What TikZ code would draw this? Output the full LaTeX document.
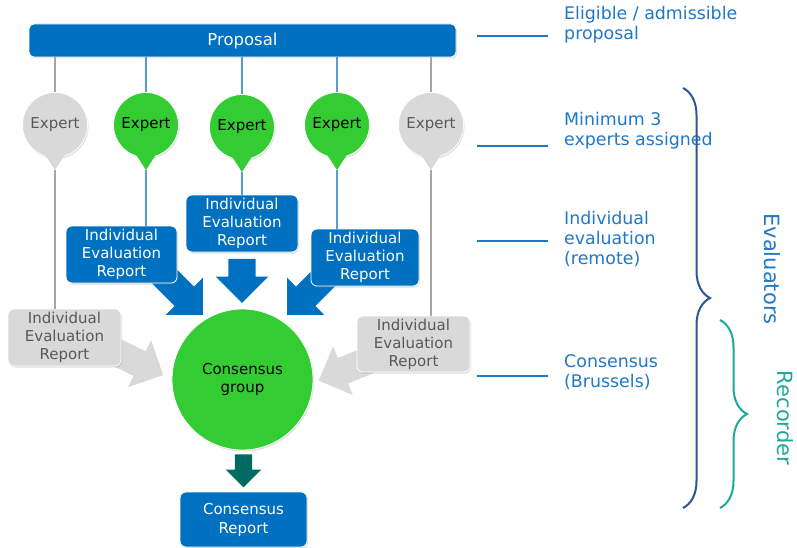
\documentclass[tikz,border=0pt]{standalone}
\usepackage{fontspec}
\setmainfont{DejaVu Sans}
\usetikzlibrary{
    calc,
    decorations.pathreplacing,
    shadows,
    shapes.arrows
}
\definecolor{boxblue}{HTML}{0070C0}
\definecolor{expgreen}{HTML}{33CC33}
\definecolor{expgray}{HTML}{D9D9D9}
\definecolor{graytext}{HTML}{595959}
\definecolor{linkblue}{HTML}{5B9BD5}
\definecolor{linkgray}{HTML}{A6A6A6}
\definecolor{labelblue}{HTML}{1F78C8}
\definecolor{bracenavy}{HTML}{2A5699}
\definecolor{braceteal}{HTML}{1CA89C}
\definecolor{arrowteal}{HTML}{006B63}
\tikzset{
    every picture/.style = {
        x = 1pt,
        y = 1pt
    },
    soft shadow/.style = {
        drop shadow = {opacity = 0.25, shadow xshift = 1pt, shadow yshift = -1.5pt}
    },
    bluebox/.style = {
        rectangle,
        rounded corners = 6pt,
        fill = boxblue,
        draw = white,
        line width = 0.8pt,
        text = white,
        align = center,
        inner sep = 0pt,
        soft shadow,
        font = \fontsize{15}{18}\selectfont
    },
    graybox/.style = {bluebox, fill = expgray, text = graytext},
    expert/.style = {
        circle,
        minimum size = 65pt,
        inner sep = 0pt,
        outer sep = 0pt,
        draw = white,
        line width = 0.8pt,
        soft shadow,
        font = \fontsize{15}{18}\selectfont
    },
    green expert/.style = {expert, fill = expgreen, text = black},
    gray expert/.style = {expert, fill = expgray, text = graytext},
    blocky/.style = {
        single arrow,
        single arrow tip angle = 90,
        inner xsep = 0pt,
        inner ysep = 13.5pt,
        single arrow head extend = 12.5pt,
        outer sep = 0pt
    },
    bluelink/.style = {draw = linkblue, line width = 1.2pt},
    graylink/.style = {draw = linkgray, line width = 1.2pt},
    stage/.style = {
        text = labelblue,
        align = left,
        anchor = west,
        inner sep = 0pt,
        font = \fontsize{17.4}{20}\selectfont
    },
    stagetick/.style = {draw = labelblue, line width = 1.5pt},
    role/.style = {rotate = -90, inner sep = 0pt, font = \fontsize{21}{24}\selectfont},
    rolebrace/.style = {decorate, decoration = {brace, amplitude = 27pt}, line width = 2pt}
}

\begin{document}
\begin{tikzpicture}
    \path[use as bounding box] (0,0) rectangle (797,-548);

    \node[bluebox, minimum width = 427pt, minimum height = 33pt, rounded corners = 5pt,
        font = \fontsize{16.5}{20}\selectfont] (prop) at (242.5,-40.5) {Proposal};

    \node[gray expert] (e1) at (55,-125) {Expert};
    \node[green expert] (e2) at (146,-125) {Expert};
    \node[green expert] (e3) at (242,-127) {Expert};
    \node[green expert] (e4) at (337,-125) {Expert};
    \node[gray expert] (e5) at (431,-125) {Expert};
    \foreach \e/\c in {e1/expgray, e2/expgreen, e3/expgreen, e4/expgreen, e5/expgray}
        \fill[\c] ($(\e)+(-11,-28)$) -- ($(\e)+(11,-28)$) -- ($(\e)+(0,-45)$) coordinate (\e-tip) -- cycle;
    \foreach \e/\l in {e1/graylink, e2/bluelink, e3/bluelink, e4/bluelink, e5/graylink}
        \path[\l] (prop.south -| \e) -- (\e.north);

    \node[blocky, fill = boxblue, minimum height = 60pt, rotate = -45] (a1) at (176.8,-288.8) {};
    \node[blocky, fill = boxblue, minimum height = 44pt, rotate = -90] (a2) at (242,-274) {};
    \node[blocky, fill = boxblue, minimum height = 60pt, rotate = -135] (a3) at (313.2,-288.8) {};
    \node[blocky, fill = expgray, minimum height = 55pt, rotate = -26] (a4) at (132.3,-360) {};
    \node[blocky, fill = expgray, minimum height = 55pt, rotate = -158] (a5) at (350.5,-367.7) {};
    \node[blocky, fill = arrowteal, minimum height = 33pt, inner ysep = 8.5pt,
        single arrow head extend = 9pt, rotate = -90] (a6) at (243.5,-466.5) {};

    \node[bluebox, minimum width = 111pt, minimum height = 57pt] (b1) at (121.5,-254.5) {Individual\\Evaluation\\Report};
    \node[bluebox, minimum width = 112pt, minimum height = 57pt] (b2) at (242,-223.5) {Individual\\Evaluation\\Report};
    \node[bluebox, minimum width = 108pt, minimum height = 57pt] (b3) at (365,-257.5) {Individual\\Evaluation\\Report};
    \node[graybox, minimum width = 113pt, minimum height = 57pt] (g1) at (64.5,-337.5) {Individual\\Evaluation\\Report};
    \node[graybox, minimum width = 113pt, minimum height = 56pt] (g2) at (413.5,-344) {Individual\\Evaluation\\Report};

    \path[graylink] (e1-tip) -- (e1-tip |- g1.north);
    \path[bluelink] (e2-tip) -- (e2-tip |- b1.north);
    \path[bluelink] (e3-tip) -- (e3-tip |- b2.north);
    \path[bluelink] (e4-tip) -- (e4-tip |- b3.north);
    \path[graylink] (e5-tip) -- (e5-tip |- g2.north);

    \node[circle, minimum size = 141pt, fill = expgreen, draw = white, line width = 0.8pt, soft shadow,
        align = center, font = \fontsize{15}{18}\selectfont] (cg) at (242.5,-379.5) {Consensus\\group};
    \node[bluebox, minimum width = 127pt, minimum height = 55pt,
        font = \fontsize{15}{19}\selectfont] (cr) at (243.5,-519.5) {Consensus\\Report};

    \node[stage] (s1) at (564,-25) {Eligible / admissible\\proposal};
    \node[stage] (s2) at (564,-131) {Minimum 3\\experts assigned};
    \node[stage] (s3) at (564,-239) {Individual\\evaluation\\(remote)};
    \node[stage] (s4) at (564,-372) {Consensus\\(Brussels)};
    \foreach \y in {36, 146, 241, 376}
        \draw[stagetick] (477,-\y) -- (548,-\y);

    \draw[rolebrace, bracenavy] (683,-88) -- (683,-508);
    \draw[rolebrace, braceteal] (720,-320) -- (720,-508);
    \node[role, text = labelblue] (ev) at (772,-269) {Evaluators};
    \node[role, text = braceteal] (rec) at (785,-418) {Recorder};
\end{tikzpicture}
\end{document}
